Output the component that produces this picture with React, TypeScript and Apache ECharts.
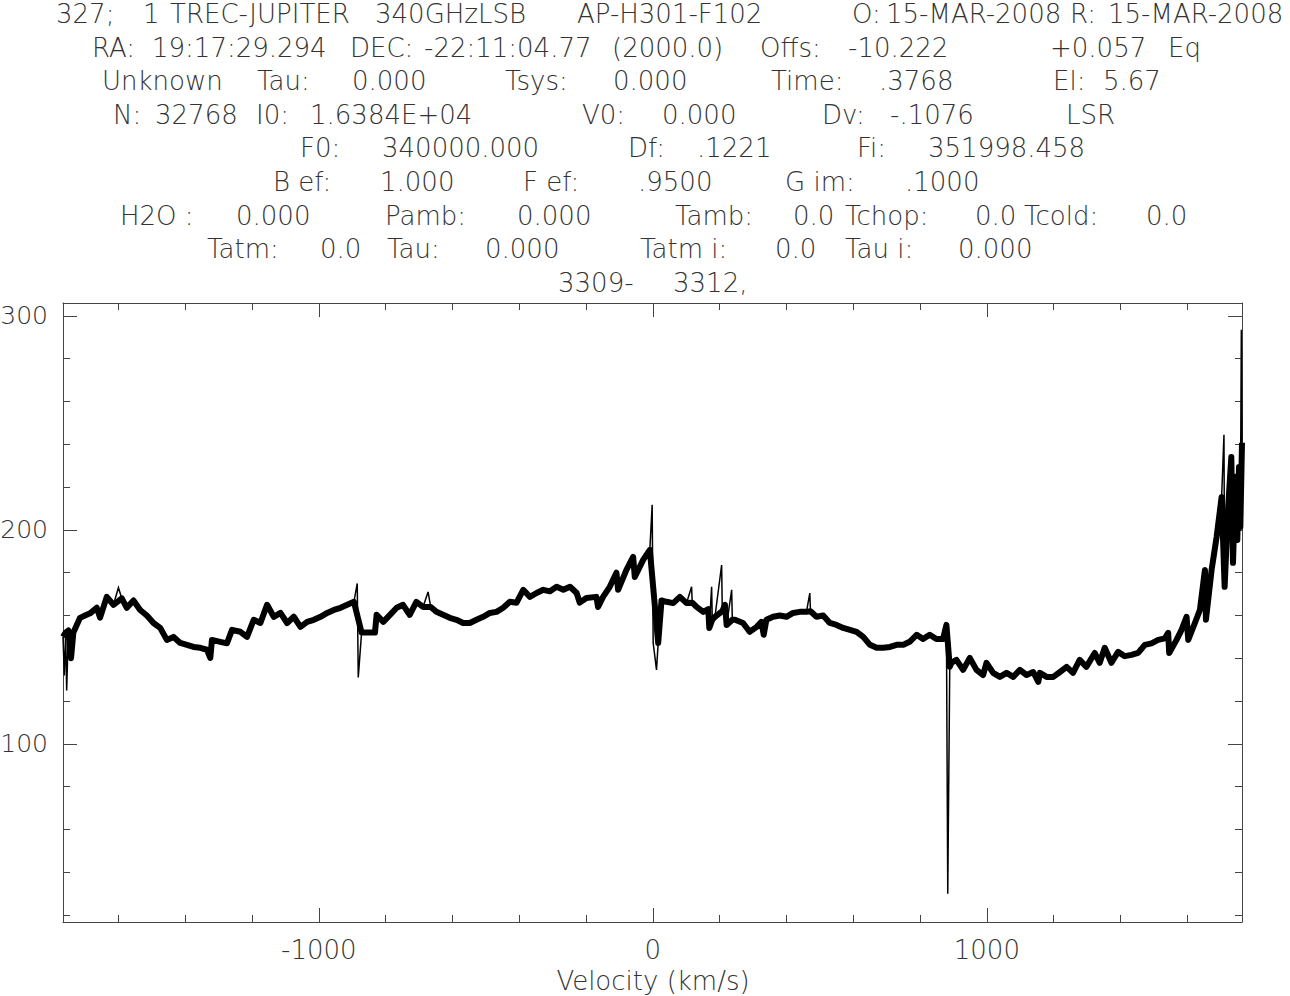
import React, { useEffect, useRef } from "react";
import * as echarts from "echarts";

// ---- spectrum data (velocity km/s, intensity) ----
const velocity: number[] = [
  -1766, -1762, -1758, -1755, -1750, -1742, -1735, -1715, -1700, -1685, -1665, -1655, -1635, -1615, -1600, -1590,
  -1575, -1555, -1535, -1515, -1495, -1475, -1455, -1435, -1415, -1395, -1375, -1355, -1335, -1325, -1320, -1295,
  -1275, -1260, -1235, -1215, -1195, -1175, -1155, -1135, -1115, -1095, -1075, -1055, -1035, -1015, -995, -975,
  -955, -935, -915, -895, -885, -882, -872, -857, -832, -827, -807, -787, -767, -748, -728, -708, -688, -673, -665,
  -648, -628, -608, -588, -568, -548, -528, -508, -488, -468, -448, -428, -408, -388, -368, -348, -328, -308, -288,
  -268, -248, -228, -219, -199, -169, -164, -149, -129, -109, -104, -79, -59, -54, -29, -9, -2, 1, 11, 16, 26, 41,
  61, 81, 101, 116, 118, 131, 151, 166, 169, 176, 178, 186, 206, 208, 216, 221, 236, 238, 246, 270, 290, 311, 325,
  332, 340, 360, 380, 400, 420, 440, 460, 470, 472, 490, 510, 530, 550, 570, 590, 610, 630, 650, 670, 690, 710, 730,
  750, 769, 790, 809, 829, 849, 869, 879, 883, 889, 894, 909, 929, 949, 969, 989, 999, 1019, 1039, 1059, 1079, 1099,
  1119, 1139, 1154, 1159, 1179, 1199, 1219, 1239, 1258, 1278, 1298, 1323, 1338, 1353, 1373, 1393, 1413, 1433, 1453,
  1473, 1493, 1513, 1533, 1543, 1546, 1568, 1583, 1598, 1603, 1623, 1638, 1653, 1656, 1673, 1688, 1703, 1710, 1712,
  1722, 1732, 1737, 1745, 1750, 1755, 1759, 1762, 1764,
];
const intensity: number[] = [
  150, 132, 152, 125, 153, 140, 152, 158.9, 160, 161, 163.6, 159, 168.7, 165, 173, 168,
  163.6, 167, 162.6, 160, 156.5, 154.2, 148.6, 150, 147.2, 146.3, 145.3, 144.9, 144, 140.2, 148.6, 147.7,
  147, 153.3, 152.4, 150, 158, 156.5, 165, 159.4, 161.2, 156.5, 159.4, 154.7, 157, 158, 159.4, 161.2,
  162.6, 163.6, 165, 166.4, 175, 131, 152, 152, 152, 160.3, 157, 160.3, 163.6, 165, 160.3, 166.4, 164, 171, 164,
  161.7, 160.3, 158.9, 158, 156.5, 156.5, 158, 159.4, 161.2, 161.7, 163.6, 166.4, 166, 172, 168.7, 170.5, 172, 171.3, 173.4,
  172, 173.4, 170.5, 166, 168.2, 168.7, 164, 168.7, 173.4, 180, 172, 181.3, 187.4, 178, 186, 190.7, 211.7, 147.2, 134.6, 147.2, 167, 166.4,
  165.8, 168.7, 165.8, 173.4, 166, 164, 161.7, 163, 154.2, 173.4, 158, 159.4, 183.6, 162, 165, 155.6, 172, 158, 158, 156.5, 152.4, 154.7, 157,
  151, 158, 159.4, 160, 159.4, 161.2, 161.7, 161.7, 170.5, 162, 159.4, 160, 156.5, 155.6, 154.2, 153.3, 152.4, 150, 146.3, 144.9, 144.9, 145.3, 146.3,
  146.3, 147.7, 151, 149, 151, 149, 149, 155.6, 30, 136, 137.9, 139.3, 134.6, 140.2, 134.6, 132.2, 137.9, 133.2, 131.3, 133.2, 131.3, 134.6,
  132.2, 133.6, 129, 133.2, 131.3, 131.3, 133.6, 136, 133.2, 139.3, 136, 142.5, 137.9, 144.9, 137.9, 143, 141, 141.6, 142.5,
  146.3, 147, 148.6, 149.3, 151.9, 142.5, 148.6, 153.3, 159.4, 148.6, 156.5, 162.6, 181.3, 158, 181.3, 196.7, 215.4, 244.4, 173.4,
  209.3, 234, 184.6, 224.8, 195.3, 229.4, 201.4, 293.5, 240.7,
];
// single-channel transients (drawn thin, excluded from the noisy band)
const spikeVelocities: number[] = [-1762, -1755, -1600, -885, -882, -673, -2, 1, 11, 116, 176, 206, 236, 470, 883, 1710, 1762];

// ---- axis ticks ----
const xMajorTicks: number[] = [-1000, 0, 1000];
const xMinorTicks: number[] = [-1600, -1400, -1200, -800, -600, -400, -200, 200, 400, 600, 800, 1200, 1400, 1600];
const yMajorTicks: number[] = [100, 200, 300];
const yMinorTicks: number[] = [20, 40, 60, 80, 120, 140, 160, 180, 220, 240, 260, 280];
const xRange: number[] = [-1766, 1764];
const yRange: number[] = [16.8, 306];
const xTitle = "Velocity (km/s)";

// ---- header lines: [text, left x] segments ----
const headerLines: [string, number][][] = [
  [["327;", 56], ["1", 143], ["TREC-JUPITER", 170], ["340GHzLSB", 375], ["AP-H301-F102", 577], ["O:", 852], ["15-MAR-2008", 886], ["R:", 1070], ["15-MAR-2008", 1108]],
  [["RA:", 92], ["19:17:29.294", 152], ["DEC:", 350], ["-22:11:04.77", 424], ["(2000.0)", 612], ["Offs:", 760], ["-10.222", 848], ["+0.057", 1050], ["Eq", 1168]],
  [["Unknown", 102], ["Tau:", 257], ["0.000", 352], ["Tsys:", 505], ["0.000", 613], ["Time:", 771], [".3768", 879], ["El:", 1053], ["5.67", 1103]],
  [["N:", 113], ["32768", 155], ["I0:", 256], ["1.6384E+04", 310], ["V0:", 582], ["0.000", 662], ["Dv:", 822], ["-.1076", 890], ["LSR", 1066]],
  [["F0:", 300], ["340000.000", 382], ["Df:", 628], [".1221", 697], ["Fi:", 857], ["351998.458", 928]],
  [["B ef:", 273], ["1.000", 380], ["F ef:", 523], [".9500", 638], ["G im:", 785], [".1000", 905]],
  [["H2O :", 120], ["0.000", 236], ["Pamb:", 385], ["0.000", 517], ["Tamb:", 675], ["0.0", 793], ["Tchop:", 845], ["0.0", 975], ["Tcold:", 1024], ["0.0", 1146]],
  [["Tatm:", 207], ["0.0", 320], ["Tau:", 387], ["0.000", 485], ["Tatm i:", 640], ["0.0", 775], ["Tau i:", 845], ["0.000", 958]],
  [["3309-", 558], ["3312,", 673]],
];

const FONT = "DejaVu Sans";
const TEXT_COLOR = "#333";
const AXIS_COLOR = "#444";

export default function App() {
  const ref = useRef<HTMLDivElement>(null);

  useEffect(() => {
    if (!ref.current) return;
    const chart = echarts.init(ref.current, undefined, { renderer: "svg" });

    const textStyle = (text: string, align: string) => ({
      text,
      fontSize: 26,
      lineHeight: 26,
      fontFamily: FONT,
      fontWeight: 200,
      fill: TEXT_COLOR,
      align,
      verticalAlign: "middle",
      textAlign: align,
      textVerticalAlign: "middle",
    });

    const graphics: any[] = [];
    headerLines.forEach((line, li) => {
      const y = 14 + li * 33.6;
      line.forEach(([text, x]) => {
        graphics.push({ type: "text", x, y, style: textStyle(text, "left") });
      });
    });
    // x-axis title
    graphics.push({ type: "text", x: 653, y: 981, style: textStyle(xTitle, "center") });

    const labelStyle = { fontSize: 26, lineHeight: 26, fontFamily: FONT, fontWeight: 200, color: TEXT_COLOR };
    const yLabelStyle = { fontSize: 25, fontFamily: FONT, fontWeight: 200, color: TEXT_COLOR };
    const lineStyle = { color: AXIS_COLOR, width: 1 };

    const xBase = { type: "value", gridIndex: 0, min: xRange[0], max: xRange[1], splitLine: { show: false } };
    const yBase = { type: "value", gridIndex: 0, min: yRange[0], max: yRange[1], splitLine: { show: false } };

    const fullData = velocity.map((v, i) => [v, intensity[i]]);
    const bandData = fullData.filter(([v]) => spikeVelocities.indexOf(v) < 0);

    const option: any = {
      animation: false,
      backgroundColor: "#fff",
      grid: { left: 63, right: 48, top: 303, bottom: 74, containLabel: false, outerBoundsMode: "none" },
      graphic: graphics,
      xAxis: [
        {
          ...xBase,
          position: "bottom",
          axisLine: { show: true, onZero: false, lineStyle },
          axisTick: { show: true, inside: true, length: 14, customValues: xMajorTicks, lineStyle },
          axisLabel: { show: true, customValues: xMajorTicks, margin: 15, formatter: (v: number) => String(v), ...labelStyle },
        },
        {
          ...xBase,
          position: "bottom",
          axisLine: { show: false, onZero: false },
          axisTick: { show: true, inside: true, length: 7, customValues: xMinorTicks, lineStyle },
          axisLabel: { show: false },
        },
        {
          ...xBase,
          position: "top",
          axisLine: { show: true, onZero: false, lineStyle },
          axisTick: { show: true, inside: true, length: 14, customValues: xMajorTicks, lineStyle },
          axisLabel: { show: false },
        },
        {
          ...xBase,
          position: "top",
          axisLine: { show: false, onZero: false },
          axisTick: { show: true, inside: true, length: 7, customValues: xMinorTicks, lineStyle },
          axisLabel: { show: false },
        },
      ],
      yAxis: [
        {
          ...yBase,
          position: "left",
          axisLine: { show: true, onZero: false, lineStyle },
          axisTick: { show: true, inside: true, length: 14, customValues: yMajorTicks, lineStyle },
          axisLabel: { show: true, customValues: yMajorTicks, margin: 15, formatter: (v: number) => String(v), ...yLabelStyle },
        },
        {
          ...yBase,
          position: "left",
          axisLine: { show: false, onZero: false },
          axisTick: { show: true, inside: true, length: 7, customValues: yMinorTicks, lineStyle },
          axisLabel: { show: false },
        },
        {
          ...yBase,
          position: "right",
          axisLine: { show: true, onZero: false, lineStyle },
          axisTick: { show: true, inside: true, length: 14, customValues: yMajorTicks, lineStyle },
          axisLabel: { show: false },
        },
        {
          ...yBase,
          position: "right",
          axisLine: { show: false, onZero: false },
          axisTick: { show: true, inside: true, length: 7, customValues: yMinorTicks, lineStyle },
          axisLabel: { show: false },
        },
      ],
      series: [
        {
          name: "band",
          type: "line",
          xAxisIndex: 0,
          yAxisIndex: 0,
          data: bandData,
          showSymbol: false,
          symbol: "none",
          lineStyle: { color: "#000", width: 6, join: "round" },
          clip: true,
        },
        {
          name: "spectrum",
          type: "line",
          xAxisIndex: 0,
          yAxisIndex: 0,
          data: fullData,
          showSymbol: false,
          symbol: "none",
          lineStyle: { color: "#000", width: 1.5, join: "miter" },
          clip: true,
        },
      ],
    };

    chart.setOption(option);
    return () => chart.dispose();
  }, []);

  return (
    <div
      ref={ref}
      style={{ position: "absolute", left: 0, top: 0, width: 1290, height: 996 }}
    />
  );
}
